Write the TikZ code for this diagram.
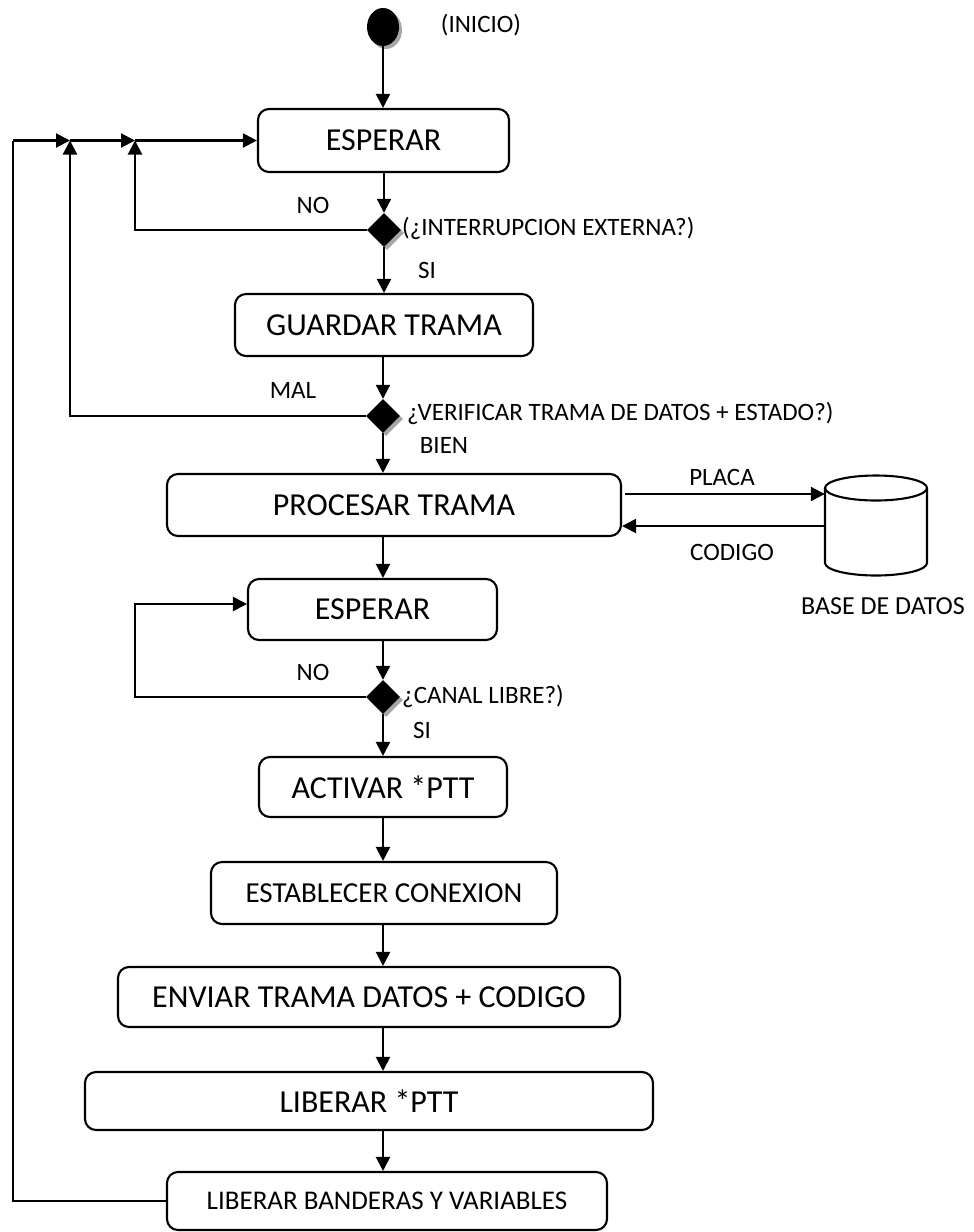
\documentclass[tikz,border=0pt]{standalone}
\usepackage{fontspec}
\setmainfont{Carlito}
\usetikzlibrary{arrows.meta,shapes.geometric,shadows,calc}
\newcommand\bigtxt{\fontsize{32}{38}\selectfont}
\newcommand\midtxt{\fontsize{29}{35}\selectfont}
\newcommand\smltxt{\fontsize{27}{32}\selectfont}
\newcommand\lbltxt{\fontsize{25}{30}\selectfont}

\begin{document}
\begin{tikzpicture}[x=1pt,y=-1pt,
  stepbox/.style={draw, line width=2.1pt, rounded corners=11pt, inner sep=0pt, font=\bigtxt},
  lbl/.style={inner sep=0pt, font=\lbltxt},
  arr/.style={line width=2.1pt, -{Triangle[length=14pt,width=14pt]}},
  wire/.style={line width=2.1pt},
  dec/.style={diamond, fill=black, minimum size=34pt, inner sep=0pt,
    drop shadow={shadow xshift=3pt, shadow yshift=-3pt, fill=black!35, opacity=1}},
]
\useasboundingbox (0,0) rectangle (974,1232);

% start point
\node[ellipse, fill=black, minimum width=32pt, minimum height=38pt, inner sep=0pt,
  drop shadow={shadow xshift=3pt, shadow yshift=-3pt, fill=black!35, opacity=1}] (ini) at (383,27) {};
\node[lbl] (tini) at (481,25) {(INICIO)};

% process steps
\node[stepbox, minimum width=251pt, minimum height=63pt] (esp1) at (383.5,140.5) {ESPERAR};
\node[stepbox, minimum width=298pt, minimum height=62pt] (guard) at (384,325) {GUARDAR TRAMA};
\node[stepbox, minimum width=454pt, minimum height=62pt] (proc) at (394,505) {PROCESAR TRAMA};
\node[stepbox, minimum width=249pt, minimum height=61pt] (esp2) at (372.5,609.5) {ESPERAR};
\node[stepbox, minimum width=248pt, minimum height=60pt] (act) at (383,787) {ACTIVAR *PTT};
\node[stepbox, minimum width=346pt, minimum height=62pt, font=\midtxt] (estab) at (384,893) {ESTABLECER CONEXION};
\node[stepbox, minimum width=502pt, minimum height=60pt] (env) at (369,997) {ENVIAR TRAMA DATOS + CODIGO};
\node[stepbox, minimum width=568pt, minimum height=58pt] (lib) at (369,1101) {LIBERAR *PTT};
\node[stepbox, minimum width=440pt, minimum height=58pt, font=\smltxt] (band) at (387,1201) {LIBERAR BANDERAS Y VARIABLES};

% decisions
\node[dec] (d1) at (384,230) {};
\node[dec] (d2) at (383,416) {};
\node[dec] (d3) at (383,697) {};

\node[lbl, anchor=west] (q1) at (402,228) {(¿INTERRUPCION EXTERNA?)};
\node[lbl, anchor=west] (q2) at (407,413) {¿VERIFICAR TRAMA DE DATOS + ESTADO?)};
\node[lbl, anchor=west] (q3) at (402,696) {¿CANAL LIBRE?)};

\node[lbl] (no1) at (313,205) {NO};
\node[lbl] (si1) at (427,270) {SI};
\node[lbl] (mal) at (293,390) {MAL};
\node[lbl] (bien) at (444,445) {BIEN};
\node[lbl] (no2) at (313,672) {NO};
\node[lbl] (si2) at (422,730) {SI};

% database
\node[minimum width=102pt, minimum height=100pt, inner sep=0pt] (db) at (876,525.5) {};
\draw[wire] (876,488) ellipse [x radius=51pt, y radius=12.5pt];
\draw[wire] (825,488) -- (825,563) arc [start angle=180, end angle=360, x radius=51pt, y radius=12.5pt] -- (927,488);
\node[lbl, font=\fontsize{26}{31}\selectfont] (tdb) at (883,606) {BASE DE DATOS};
\node[lbl] (tpl) at (722,477) {PLACA};
\node[lbl] (tcd) at (732,552) {CODIGO};

% main flow
\draw[arr] (ini.south) -- (ini.south |- esp1.north);
\draw[arr] (esp1.south -| d1) -- (d1.north);
\draw[arr] (d1.south) -- (d1.south |- guard.north);
\draw[arr] (guard.south -| d2) -- (d2.north);
\draw[arr] (d2.south) -- (d2.south |- proc.north);
\draw[arr] (proc.south -| d2) -- (d2 |- esp2.north);
\draw[arr] (esp2.south -| d3) -- (d3.north);
\draw[arr] (d3.south) -- (d3.south |- act.north);
\draw[arr] (act.south -| d3) -- (d3 |- estab.north);
\draw[arr] (estab.south -| d3) -- (d3 |- env.north);
\draw[arr] (env.south -| d3) -- (d3 |- lib.north);
\draw[arr] (lib.south -| d3) -- (d3 |- band.north);

% database exchange
\coordinate (pl) at (625,494);
\coordinate (cd) at (825,526);
\draw[arr] (pl) -- (pl -| db.west);
\draw[arr] (cd) -- (cd -| proc.east);

% return paths
\coordinate (fbl) at (13,140.5);
\coordinate (fbb) at (13,1201);
\coordinate (j1) at (70,140.5);
\coordinate (j2) at (135,140.5);
\draw[wire] (band.west) -- (fbb) -- (fbl);
\draw[arr] (fbl) -- (j1);
\draw[arr] (j1) -- (j2);
\draw[arr] (j2) -- (esp1.west);
\draw[arr] (d1.west) -| (j2);
\draw[arr] (d2.west) -| (j1);
\coordinate (l2) at (135,604);
\draw[arr] (d3.west) -| (l2) -- (l2 -| esp2.west);
\end{tikzpicture}
\end{document}
